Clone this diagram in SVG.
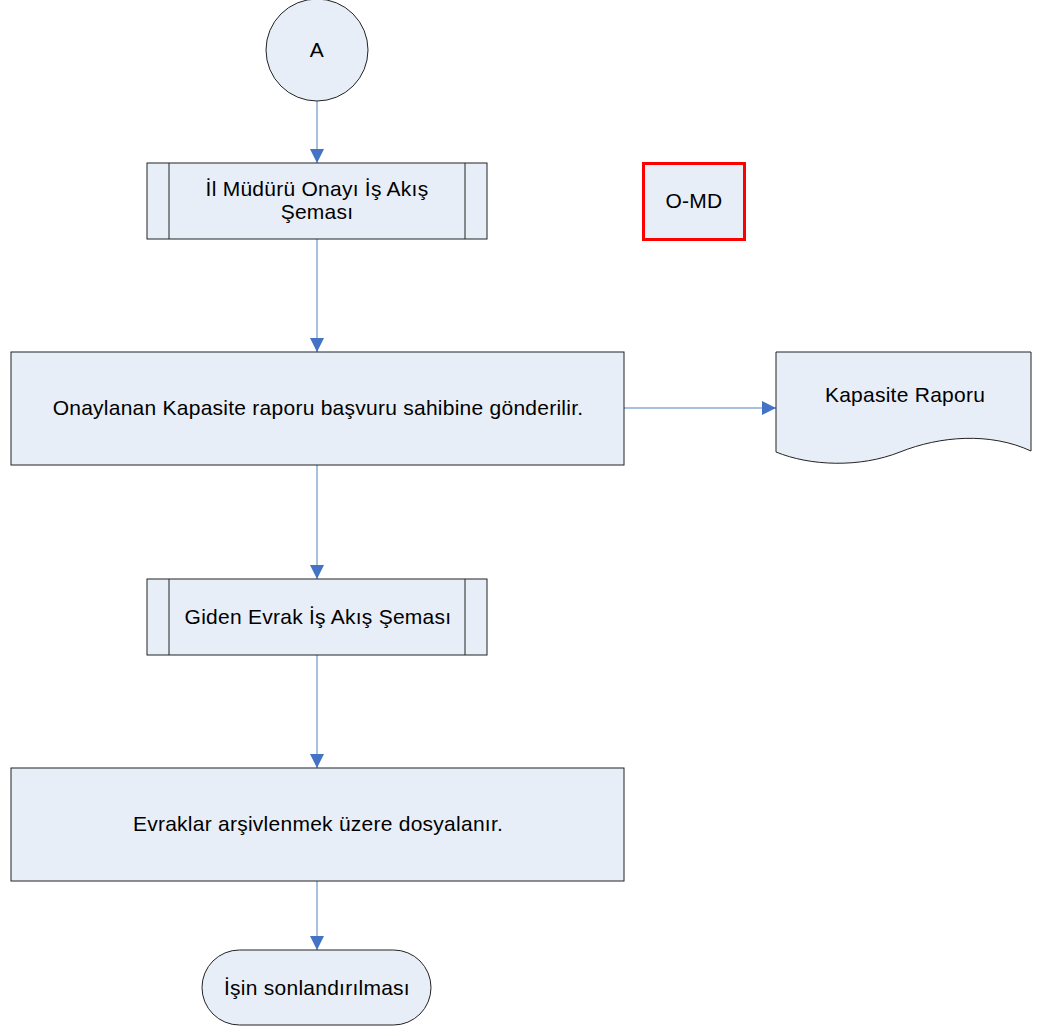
<svg xmlns="http://www.w3.org/2000/svg" width="1049" height="1029" viewBox="0 0 1049 1029">
<style>
.n{fill:#e8eef7;stroke:#222;stroke-width:1}
.t{font-family:"Liberation Sans",Arial,sans-serif;font-size:21px;letter-spacing:0.25px;fill:#000;text-anchor:middle}
.c{stroke:#4f81bd;stroke-width:1;fill:none}
</style>
<defs>
<marker id="ah" viewBox="0 0 10 10" refX="10" refY="5" markerWidth="14" markerHeight="14" markerUnits="userSpaceOnUse" orient="auto">
<path d="M0,0 L10,5 L0,10 z" fill="#4472c4"/>
</marker>
</defs>
<rect width="1049" height="1029" fill="#fff"/>
<g id="connectors">
<line class="c" x1="317" y1="101" x2="317" y2="163" marker-end="url(#ah)"/>
<line class="c" x1="317" y1="239" x2="317" y2="352" marker-end="url(#ah)"/>
<line class="c" x1="317" y1="465" x2="317" y2="579" marker-end="url(#ah)"/>
<line class="c" x1="317" y1="655" x2="317" y2="768" marker-end="url(#ah)"/>
<line class="c" x1="317" y1="881" x2="317" y2="950" marker-end="url(#ah)"/>
<line class="c" x1="624" y1="408" x2="776" y2="408" marker-end="url(#ah)"/>
</g>
<g id="nodeA">
<circle class="n" cx="317" cy="50" r="51"/>
<text class="t" x="317" y="57">A</text>
</g>
<g id="node1">
<rect class="n" x="147" y="163" width="340" height="76"/>
<line class="n" x1="169" y1="163" x2="169" y2="239"/>
<line class="n" x1="465" y1="163" x2="465" y2="239"/>
<text class="t" x="317" y="196">İl Müdürü Onayı İş Akış</text>
<text class="t" x="317" y="219">Şeması</text>
</g>
<g id="nodeOMD">
<rect x="643.5" y="163.5" width="101" height="76" fill="#e8eef7" stroke="#f00" stroke-width="3"/>
<text class="t" x="694" y="208">O-MD</text>
</g>
<g id="node2">
<rect class="n" x="11" y="352" width="613" height="113"/>
<text class="t" x="318" y="415">Onaylanan Kapasite raporu başvuru sahibine gönderilir.</text>
</g>
<g id="nodeDoc">
<path class="n" d="M776,352 H1031 V451 C990,432 940,436 900,452 C860,468 810,466 776,452 Z"/>
<text class="t" x="905" y="402">Kapasite Raporu</text>
</g>
<g id="node3">
<rect class="n" x="147" y="579" width="340" height="76"/>
<line class="n" x1="169" y1="579" x2="169" y2="655"/>
<line class="n" x1="465" y1="579" x2="465" y2="655"/>
<text class="t" x="318" y="624">Giden Evrak İş Akış Şeması</text>
</g>
<g id="node4">
<rect class="n" x="11" y="768" width="613" height="113"/>
<text class="t" x="318" y="831">Evraklar arşivlenmek üzere dosyalanır.</text>
</g>
<g id="nodeEnd">
<rect class="n" x="202" y="950" width="229" height="75" rx="37.5" ry="37.5"/>
<text class="t" x="317" y="995">İşin sonlandırılması</text>
</g>
</svg>
